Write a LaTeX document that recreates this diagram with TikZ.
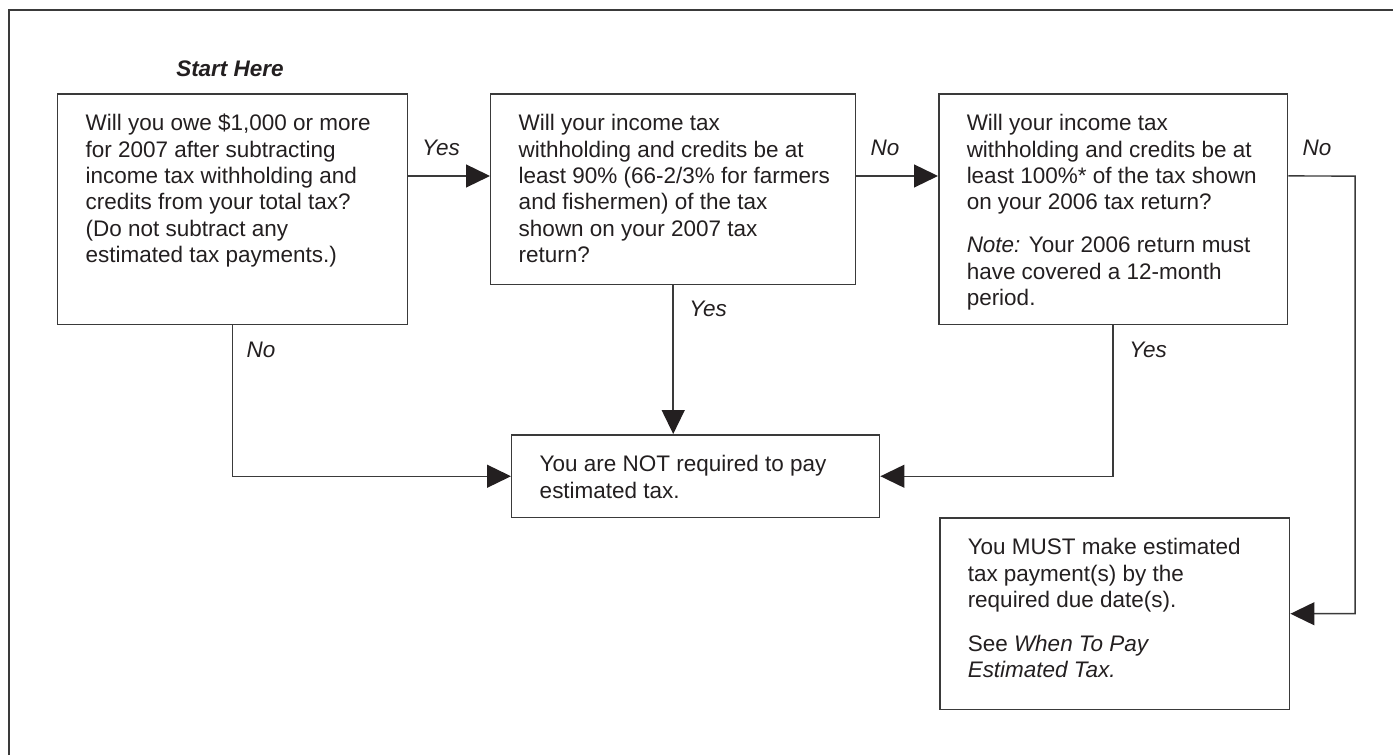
\documentclass[tikz,border=0pt]{standalone}
\usepackage{fontspec}
\setmainfont{Liberation Sans}
\usetikzlibrary{arrows.meta, positioning}

\definecolor{inkgray}{HTML}{231F20}
\definecolor{rulegray}{HTML}{3A3A3A}
\newcommand{\boxfont}{\fontsize{12.8}{15}\selectfont}
\newcommand{\qtext}[3]{\parbox[c][#2][t]{#1}{\begin{tabular}[t]{@{}l@{}}#3\end{tabular}}}

\begin{document}
\begin{tikzpicture}[x=0.02cm, y=-0.02cm, font=\boxfont, text=inkgray]
        % Setup the styles for the boxes, answers and arrows
        \tikzset{box style/.style 2 args={draw=rulegray,
                                          line width=0.85pt,
                                          inner sep=0pt,
                                          anchor=north west,
                                          minimum width=#1,
                                          minimum height=#2},
                 answer/.style={font=\boxfont\itshape},
                 flow/.style={draw=rulegray,
                              line width=0.85pt,
                              -{Triangle[length=13.6pt, width=13pt, color=inkgray]}}}

        \useasboundingbox (0,0) rectangle (1393,755);

        % Outer frame
        \draw[rulegray, line width=1.1pt] (9,755) -- (9,10) -- (1393,10);

        % Draw the boxes
        \node[font=\boxfont\bfseries\itshape] at (230,69) (start) {Start Here};
        \node[box style={7cm}{4.62cm}] at (57,93) (q1)
            {\qtext{5.88cm}{3.88cm}{Will you owe \$1,000 or more\\for 2007 after subtracting\\income tax withholding and\\credits from your total tax?\\(Do not subtract any\\estimated tax payments.)}};
        \node[box style={7.3cm}{3.82cm}] at (490,93) (q2)
            {\qtext{6.18cm}{3.08cm}{Will your income tax\\withholding and credits be at\\least 90\% (66-2/3\% for farmers\\and fishermen) of the tax\\shown on your 2007 tax\\return?}};
        \node[box style={6.98cm}{4.62cm}] at (938,93) (q3)
            {\qtext{5.86cm}{3.88cm}{Will your income tax\\withholding and credits be at\\least 100\%* of the tax shown\\on your 2006 tax return?\\[9.5pt]\textit{Note:} Your 2006 return must\\have covered a 12-month\\period.}};
        \node[box style={7.36cm}{1.66cm}] at (511,434) (notreq)
            {\qtext{6.24cm}{0.92cm}{You are NOT required to pay\\estimated tax.}};
        \node[box style={7cm}{3.84cm}] at (939,517) (must)
            {\qtext{5.88cm}{3.1cm}{You MUST make estimated\\tax payment(s) by the\\required due date(s).\\[10pt]See \textit{When To Pay}\\\textit{Estimated Tax.}}};

        % Answers
        \node[answer] at (441,148) (yes1) {Yes};
        \node[answer] at (885,148) (no2) {No};
        \node[answer] at (1317,148) (no3) {No};
        \node[answer] at (261,350) (no1) {No};
        \node[answer] at (708,309) (yes2) {Yes};
        \node[answer] at (1148,350) (yes3) {Yes};

        % Connect the boxes
        \coordinate (turn) at (1355,176);
        \draw[flow] ([yshift=-1.66cm]q1.north east) -- ([yshift=-1.66cm]q2.north west);
        \draw[flow] ([yshift=-1.66cm]q2.north east) -- ([yshift=-1.66cm]q3.north west);
        \draw[flow] ([yshift=-1.66cm]q3.north east) -- (turn) |- (must.east);
        \draw[flow] (q1.south) |- (notreq.west);
        \draw[flow] (q2.south) -- (q2.south |- notreq.north);
        \draw[flow] (q3.south) |- (notreq.east);
\end{tikzpicture}
\end{document}
